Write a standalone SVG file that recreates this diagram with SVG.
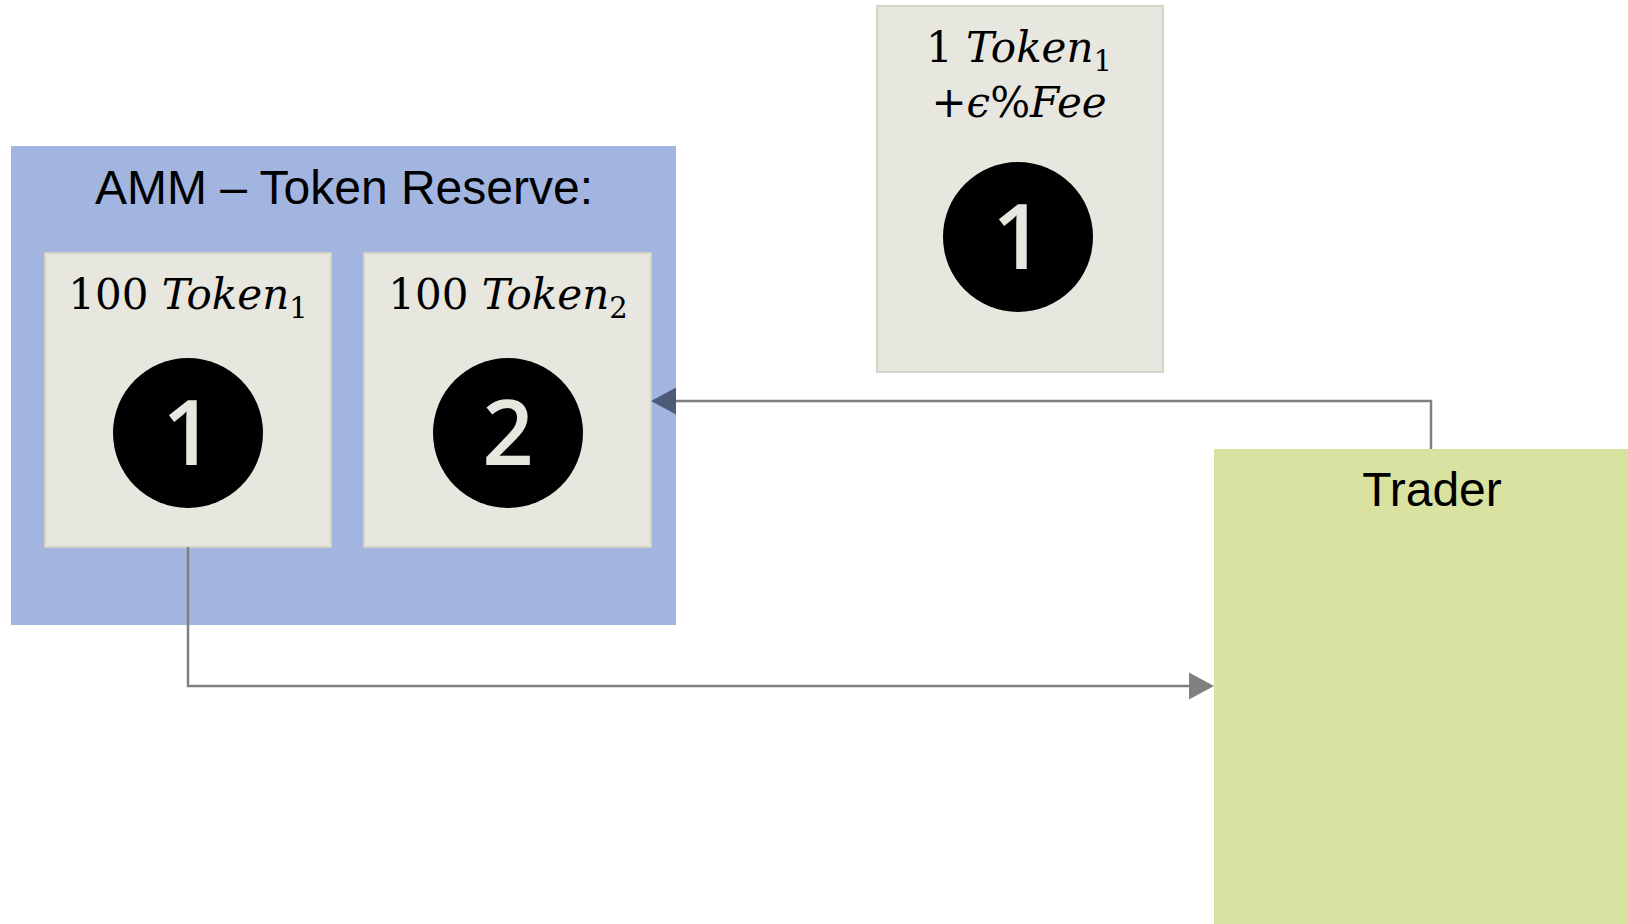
<svg xmlns="http://www.w3.org/2000/svg" width="1628" height="924" viewBox="0 0 1628 924">
<defs>
<style>
.lbl{font-family:"Liberation Sans",Arial,sans-serif;font-size:48px;fill:#000;text-anchor:middle}
.math{font-family:"DejaVu Serif","Liberation Serif",serif;font-size:42px;fill:#000;text-anchor:middle}
.it{font-style:italic}
.sub{font-size:29px}
.tok{fill:#e7e6df;stroke:#d5d3c5;stroke-width:2}
.num{font-family:"Open Sans","Noto Sans",sans-serif;font-weight:600;font-size:90px;fill:#e7e6df;text-anchor:middle}
.conn{fill:none;stroke:#808080;stroke-width:2.5}
</style>
</defs>
<rect width="1628" height="924" fill="#ffffff"/>
<g id="amm">
<rect x="11" y="146" width="665" height="479" fill="#a1b5e0"/>
<text class="lbl" x="344" y="204">AMM – Token Reserve:</text>
</g>
<g id="token1">
<rect class="tok" x="45" y="253" width="286" height="294"/>
<text class="math" x="188" y="309">100 <tspan class="it">Token</tspan><tspan class="sub" dy="9">1</tspan></text>
<circle cx="188" cy="433" r="75" fill="#000"/>
<text class="num" x="188" y="465">1</text>
</g>
<g id="token2">
<rect class="tok" x="364" y="253" width="287" height="294"/>
<text class="math" x="508" y="309">100 <tspan class="it">Token</tspan><tspan class="sub" dy="9">2</tspan></text>
<circle cx="508" cy="433" r="75" fill="#000"/>
<text class="num" x="508" y="465">2</text>
</g>
<g id="payment">
<rect class="tok" x="877" y="6" width="286" height="366"/>
<text class="math" x="1019" y="62">1 <tspan class="it">Token</tspan><tspan class="sub" dy="9">1</tspan></text>
<text class="math" x="1019" y="117">+<tspan class="it">ϵ</tspan>%<tspan class="it">Fee</tspan></text>
<circle cx="1018" cy="237" r="75" fill="#000"/>
<text class="num" x="1018" y="269">1</text>
</g>
<g id="trader">
<rect x="1214" y="449" width="414" height="475" fill="#d9e2a1"/>
<text class="lbl" x="1432" y="506">Trader</text>
</g>
<g id="connectors">
<polyline class="conn" points="1431,449 1431,401 675,401"/>
<path d="M651,401 L676,387.5 L676,414.5 z" fill="#4f5a78"/>
<polyline class="conn" points="188,547 188,686 1190,686"/>
<path d="M1214,686 L1189,672.5 L1189,699.5 z" fill="#808080"/>
</g>
</svg>
